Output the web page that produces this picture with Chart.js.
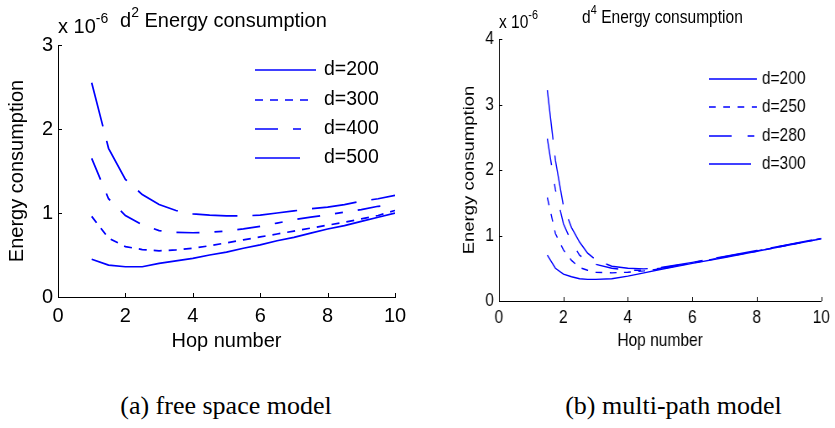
<!DOCTYPE html>
<html>
<head>
<meta charset="utf-8">
<script src="https://cdn.jsdelivr.net/npm/chart.js@4.4.1/dist/chart.umd.min.js"></script>
<style>
  html, body { margin: 0; padding: 0; background: #fff; }
  body { width: 835px; height: 428px; position: relative; overflow: hidden; font-family: 'Liberation Sans', Arial, sans-serif; color: #000; }
  .abs { position: absolute; white-space: nowrap; }
  .ttl { line-height: 20px; }
  .ttl sup { font-size: 0.7em; position: relative; top: -0.15em; vertical-align: super; line-height: 0; }
  #rightWrap { position: absolute; left: 420px; top: 0; width: 494px; height: 370px; transform: scaleX(0.84); transform-origin: 0 0; }
  .cap { font-family: 'Liberation Serif', 'Times New Roman', serif; font-size: 26px; line-height: 26px; }
</style>
</head>
<body>

<canvas id="leftChart" width="420" height="370" class="abs" style="left:0;top:0"></canvas>
<div class="abs ttl" style="left:58px;top:16px;font-size:20px">x 10<sup>-6</sup></div>
<div class="abs ttl" style="left:120px;top:10px;font-size:20px">d<sup>2</sup> Energy consumption</div>

<div id="rightWrap">
  <canvas id="rightChart" width="494" height="370" class="abs" style="left:0;top:0"></canvas>
  <div class="abs ttl" style="left:94px;top:12px;font-size:18.5px">x 10<sup>-6</sup></div>
  <div class="abs ttl" style="left:193px;top:7px;font-size:18.5px">d<sup>4</sup> Energy consumption</div>
</div>

<div class="abs cap" style="left:0;width:452px;text-align:center;top:393px">(a) free space model</div>
<div class="abs cap" style="left:563px;width:221px;text-align:center;top:393px">(b) multi-path model</div>

<script>
// (a) free space model, values in units of 1e-6
const hopA = [1, 1.5, 2, 2.5, 3, 3.5, 4, 4.5, 5, 5.5, 6, 6.5, 7, 7.5, 8, 8.5, 9, 9.5, 10];
const fs200 = [0.45, 0.38, 0.36, 0.36, 0.40, 0.43, 0.46, 0.50, 0.535, 0.58, 0.62, 0.67, 0.71, 0.76, 0.81, 0.85, 0.90, 0.95, 1.00];
const fs300 = [0.96, 0.70, 0.60, 0.565, 0.55, 0.56, 0.58, 0.61, 0.645, 0.68, 0.715, 0.75, 0.785, 0.82, 0.855, 0.89, 0.93, 0.97, 1.03];
const fs400 = [1.65, 1.17, 0.97, 0.86, 0.79, 0.77, 0.765, 0.77, 0.785, 0.81, 0.84, 0.88, 0.92, 0.95, 0.98, 1.01, 1.04, 1.08, 1.10];
const fs500 = [2.55, 1.77, 1.40, 1.22, 1.10, 1.03, 0.99, 0.975, 0.965, 0.965, 0.975, 1.00, 1.025, 1.05, 1.07, 1.10, 1.14, 1.17, 1.21];
const labelsA = ['d=200', 'd=300', 'd=400', 'd=500'];

// (b) multi-path model
const hopB = [1.5, 1.75, 2, 2.25, 2.5, 2.75, 3, 3.5, 4, 4.5, 5, 6, 7, 8, 9, 10];
const mp200 = [0.70, 0.50, 0.41, 0.37, 0.34, 0.33, 0.33, 0.34, 0.38, 0.43, 0.48, 0.575, 0.665, 0.76, 0.855, 0.95];
const mp250 = [1.58, 1.03, 0.78, 0.62, 0.51, 0.47, 0.44, 0.43, 0.44, 0.46, 0.49, 0.58, 0.67, 0.76, 0.855, 0.95];
const mp280 = [2.48, 1.70, 1.18, 0.90, 0.70, 0.61, 0.56, 0.50, 0.47, 0.47, 0.50, 0.585, 0.675, 0.765, 0.86, 0.955];
const mp300 = [3.22, 2.15, 1.45, 1.12, 0.90, 0.73, 0.63, 0.53, 0.50, 0.49, 0.51, 0.59, 0.68, 0.77, 0.865, 0.96];
const labelsB = ['d=200', 'd=250', 'd=280', 'd=300'];

const xTicks = [0, 2, 4, 6, 8, 10];
const FONT = "'Liberation Sans', Arial, sans-serif";
const BLUE = '#0000ff';

function toPoints(xs, ys) {
    return xs.map((x, i) => ({ x: x, y: ys[i] }));
}

// small tick marks pointing into the plot, like the original figure
const innerTicks = {
    id: 'innerTicks',
    afterDraw(chart, args, opts) {
        const ctx = chart.ctx;
        const area = chart.chartArea;
        const len = opts.len || 4;
        ctx.save();
        ctx.strokeStyle = '#000';
        ctx.lineWidth = 1;
        ctx.beginPath();
        chart.scales.x.ticks.forEach(t => {
            const px = Math.round(chart.scales.x.getPixelForValue(t.value)) + 0.5;
            ctx.moveTo(px, area.bottom);
            ctx.lineTo(px, area.bottom - len);
        });
        chart.scales.y.ticks.forEach(t => {
            const py = Math.round(chart.scales.y.getPixelForValue(t.value)) + 0.5;
            ctx.moveTo(area.left, py);
            ctx.lineTo(area.left + len, py);
        });
        ctx.stroke();
        ctx.restore();
    }
};

// legend drawn inside the axes, without a box
const innerLegend = {
    id: 'innerLegend',
    afterDraw(chart, args, opts) {
        const ctx = chart.ctx;
        ctx.save();
        ctx.font = opts.fontSize + 'px ' + FONT;
        ctx.textBaseline = 'middle';
        ctx.fillStyle = '#000';
        chart.data.datasets.forEach((ds, i) => {
            const y = opts.rows[i];
            ctx.strokeStyle = ds.borderColor;
            ctx.lineWidth = ds.borderWidth;
            ctx.setLineDash(ds.borderDash || []);
            ctx.beginPath();
            ctx.moveTo(opts.x, y);
            ctx.lineTo(opts.x + opts.lens[i], y);
            ctx.stroke();
            ctx.setLineDash([]);
            ctx.fillText(ds.label, opts.textX, y);
        });
        ctx.restore();
    }
};

function makeChart(id, cfg) {
    const datasets = cfg.series.map((s, i) => ({
        label: cfg.labels[i],
        data: toPoints(cfg.hops, s),
        borderColor: BLUE,
        borderWidth: cfg.lineWidth,
        borderDash: cfg.dashes[i],
        pointRadius: 0,
        fill: false,
        tension: 0
    }));

    return new Chart(document.getElementById(id), {
        type: 'line',
        data: { datasets: datasets },
        options: {
            responsive: false,
            animation: false,
            devicePixelRatio: 1,
            layout: { padding: { top: cfg.top, right: cfg.right, left: 0, bottom: 0 } },
            plugins: {
                legend: { display: false },
                tooltip: { enabled: false },
                innerTicks: { len: 4 },
                innerLegend: cfg.legend
            },
            scales: {
                x: {
                    type: 'linear',
                    min: 0,
                    max: 10,
                    afterBuildTicks: s => { s.ticks = xTicks.map(v => ({ value: v })); },
                    afterFit: s => { s.height = cfg.xHeight; },
                    grid: { display: false, drawTicks: false },
                    border: { display: true, color: '#000', width: 1 },
                    ticks: { color: '#000', padding: cfg.xPad, font: { family: FONT, size: cfg.tickSize } },
                    title: {
                        display: true,
                        text: 'Hop number',
                        color: '#000',
                        font: { family: FONT, size: cfg.labelSize },
                        padding: { top: 0, bottom: cfg.xTitlePad }
                    }
                },
                y: {
                    min: 0,
                    max: cfg.yMax,
                    afterFit: s => { s.width = cfg.yWidth; },
                    grid: { display: false, drawTicks: false },
                    border: { display: true, color: '#000', width: 1 },
                    ticks: { stepSize: 1, color: '#000', padding: cfg.yPad, font: { family: FONT, size: cfg.tickSize } },
                    title: {
                        display: true,
                        text: 'Energy consumption',
                        color: '#000',
                        font: { family: FONT, size: cfg.labelSize },
                        padding: { top: cfg.yTitlePad, bottom: 0 }
                    }
                }
            }
        },
        plugins: [innerTicks, innerLegend]
    });
}

makeChart('leftChart', {
    hops: hopA,
    series: [fs200, fs300, fs400, fs500],
    labels: labelsA,
    dashes: [[], [8, 7], [23, 15, 8, 15], [45, 15]],
    lineWidth: 1.7,
    yMax: 3,
    top: 45, right: 25,
    xHeight: 73, yWidth: 58,
    xPad: 7, yPad: 5,
    tickSize: 20, labelSize: 20,
    xTitlePad: 17, yTitlePad: 5,
    legend: { x: 255, lens: [61, 55, 47, 46], textX: 324, rows: [70, 100, 129, 158], fontSize: 19.5 }
});

makeChart('rightChart', {
    hops: hopB,
    series: [mp200, mp250, mp280, mp300],
    labels: labelsB,
    dashes: [[], [8, 9], [27, 19, 8, 19], [50, 16]],
    lineWidth: 1.4,
    yMax: 4,
    top: 39, right: 9.5,
    xHeight: 69, yWidth: 94,
    xPad: 6, yPad: 6,
    tickSize: 18.5, labelSize: 18.5,
    xTitlePad: 18, yTitlePad: 48,
    legend: { x: 344, lens: [57, 57, 57, 50], textX: 407, rows: [79, 107, 136, 164], fontSize: 18.5 }
});
</script>
</body>
</html>
